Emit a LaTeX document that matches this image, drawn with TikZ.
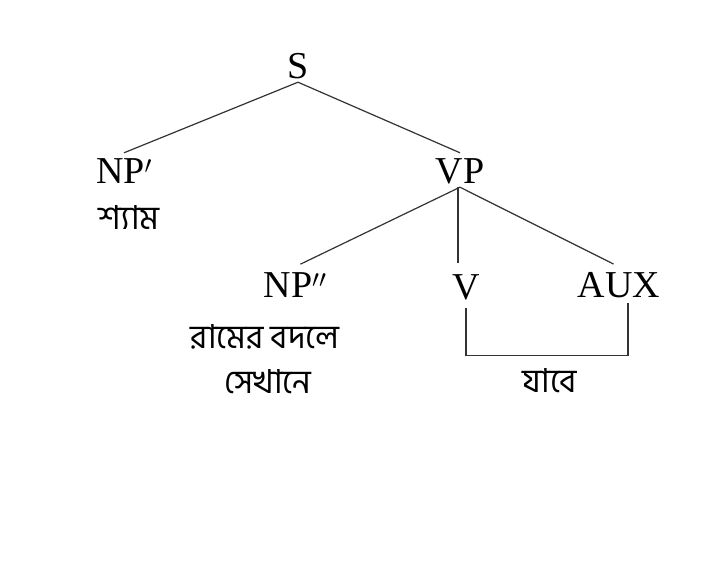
\documentclass[tikz,border=0pt]{standalone}
\usepackage{fontspec}
\setmainfont{Liberation Serif}
\newfontfamily\bn[Script=Bengali]{Hind Siliguri}
\begin{document}
\begin{tikzpicture}[x=1pt,y=-1pt,
  cat/.style={font=\fontsize{38}{40}\selectfont, text height=26pt, text depth=0pt, inner xsep=0pt, inner ysep=4pt, anchor=base},
  word/.style={font=\bn\fontsize{33}{35}\selectfont, inner sep=0pt, anchor=base},
  branch/.style={line width=1.2pt, draw=black!80},
  low/.style={branch, shorten >=6pt}]
\useasboundingbox[fill=white] (0,0) rectangle (705,581);
\node[cat] (S) at (298,78) {S};
\node[cat] (NP1) at (124,183) {NP$'$};
\node[cat] (VP) at (460,183) {VP};
\node[word] (shyam) at (129,229) {শ্যাম};
\node[cat] (NP2) at (295,297) {NP$''$};
\node[cat] (V) at (466,299) {V};
\node[cat] (AUX) at (619,297) {AUX};
\node[word] (w1) at (265,348) {রামের বদলে};
\node[word] (w2) at (268,393) {সেখানে};
\node[word] (w3) at (550,392) {যাবে};
\draw[branch] (S.south) -- (NP1.north);
\draw[branch] (S.south) -- (VP.north);
\draw[low] (VP.south) -- (NP2.north);
\draw[low] ([xshift=-2pt]VP.south) -- ([xshift=-8pt]V.north);
\draw[low] (VP.south) -- (AUX.north);
\draw[branch] ([yshift=-5pt]V.south) -- ++(0,47) -| ([xshift=9pt,yshift=-2pt]AUX.south);
\end{tikzpicture}
\end{document}
